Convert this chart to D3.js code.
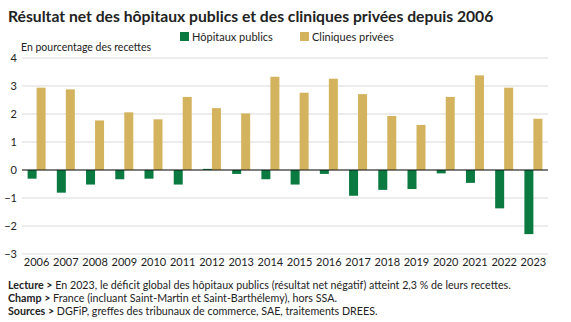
<!DOCTYPE html>
<html>
<head>
<meta charset="utf-8">
<script src="https://cdn.jsdelivr.net/npm/d3@7"></script>
<style>
  body { margin: 0; background: #fff; }
  svg text { font-family: Lato, "Open Sans", sans-serif; fill: #222; }
</style>
</head>
<body>
<div id="chart"></div>
<script>
(function(d3) {
    'use strict'

    var width = 571;
    var height = 322;

    var years = ['2006', '2007', '2008', '2009', '2010', '2011', '2012', '2013', '2014',
        '2015', '2016', '2017', '2018', '2019', '2020', '2021', '2022', '2023'];
    var hopitaux = [-0.31, -0.81, -0.52, -0.33, -0.31, -0.52, 0.04, -0.14, -0.33,
        -0.52, -0.14, -0.92, -0.71, -0.68, -0.12, -0.46, -1.37, -2.29];
    var cliniques = [2.94, 2.88, 1.77, 2.06, 1.81, 2.61, 2.21, 2.02, 3.33,
        2.76, 3.26, 2.71, 1.93, 1.61, 2.61, 3.38, 2.94, 1.83];
    var seriesNames = ['Hôpitaux publics', 'Cliniques privées'];
    var yTicks = [-3, -2, -1, 0, 1, 2, 3, 4];

    var color = d3.scaleOrdinal()
        .domain(seriesNames)
        .range(['#0b7a41', '#d3b35d']);

    var svg = d3.select('#chart')
        .append('svg')
        .attr('width', width)
        .attr('height', height);

    // Title
    svg.append('text')
        .attr('x', 8)
        .attr('y', 22)
        .style('font-size', '15.7px')
        .style('font-weight', 'bold')
        .text('Résultat net des hôpitaux publics et des cliniques privées depuis 2006');

    // Legend
    var legend = svg.append('g');
    var legendX = [180, 300];
    seriesNames.forEach(function(name, i) {
        legend.append('rect')
            .attr('x', legendX[i])
            .attr('y', 32)
            .attr('width', 9)
            .attr('height', 9)
            .attr('fill', color(name));
        legend.append('text')
            .attr('x', legendX[i] + 12)
            .attr('y', 40.5)
            .style('font-size', '11px')
            .text(name);
    });

    svg.append('text')
        .attr('x', 21)
        .attr('y', 51)
        .style('font-size', '10.5px')
        .text('En pourcentage des recettes');

    var x = d3.scaleBand()
        .domain(years)
        .range([22, 548]);

    var y = d3.scaleLinear()
        .domain([-3, 4])
        .range([254, 58]);

    var x1 = d3.scaleBand()
        .domain(seriesNames)
        .range([x.bandwidth() / 2 - 9, x.bandwidth() / 2 + 9]);

    // Grid
    svg.append('g')
        .selectAll('line')
        .data(yTicks)
        .enter()
        .append('line')
        .attr('x1', 22)
        .attr('x2', 548)
        .attr('y1', function(d) { return y(d); })
        .attr('y2', function(d) { return y(d); })
        .attr('stroke', '#d9d9d9')
        .attr('stroke-width', 1);

    // Y labels
    var yAxis = svg.append('g')
        .attr('transform', 'translate(17,0)')
        .call(d3.axisLeft(y).tickValues(yTicks).tickSize(0).tickPadding(0).tickFormat(d3.format('d')));
    yAxis.select('.domain').remove();
    yAxis.selectAll('text')
        .style('font-size', '11px')
        .style('font-family', 'Lato, "Open Sans", sans-serif')
        .attr('fill', '#222');

    var data = years.map(function(yr, i) {
        return { year: yr, values: [
            { key: seriesNames[0], value: hopitaux[i] },
            { key: seriesNames[1], value: cliniques[i] }
        ] };
    });

    var groups = svg.append('g')
        .selectAll('g')
        .data(data)
        .enter()
        .append('g')
        .attr('transform', function(d) { return 'translate(' + x(d.year) + ',0)'; });

    groups.selectAll('rect')
        .data(function(d) { return d.values; })
        .enter()
        .append('rect')
        .attr('x', function(d) { return x1(d.key); })
        .attr('width', x1.bandwidth())
        .attr('y', function(d) { return y(Math.max(0, d.value)); })
        .attr('height', function(d) { return Math.abs(y(d.value) - y(0)); })
        .attr('fill', function(d) { return color(d.key); });

    // Zero line
    svg.append('line')
        .attr('x1', 22)
        .attr('x2', 548)
        .attr('y1', y(0))
        .attr('y2', y(0))
        .attr('stroke', '#111')
        .attr('stroke-width', 1);

    // X labels
    var xAxis = svg.append('g')
        .attr('transform', 'translate(0,258)')
        .call(d3.axisBottom(x).tickSize(0).tickPadding(0));
    xAxis.select('.domain').remove();
    xAxis.selectAll('text')
        .style('font-size', '11px')
        .style('font-family', 'Lato, "Open Sans", sans-serif')
        .attr('fill', '#222');

    // Notes
    var notes = [
        ['Lecture >', ' En 2023, le déficit global des hôpitaux publics (résultat net négatif) atteint 2,3 % de leurs recettes.'],
        ['Champ >', ' France (incluant Saint-Martin et Saint-Barthélemy), hors SSA.'],
        ['Sources >', ' DGFiP, greffes des tribunaux de commerce, SAE, traitements DREES.']
    ];
    notes.forEach(function(n, i) {
        var t = svg.append('text')
            .attr('x', 8)
            .attr('y', 289 + i * 13)
            .style('font-size', '10.7px');
        t.append('tspan').style('font-weight', 'bold').text(n[0]);
        t.append('tspan').text(n[1]);
    });

})(window.d3);
</script>
</body>
</html>
